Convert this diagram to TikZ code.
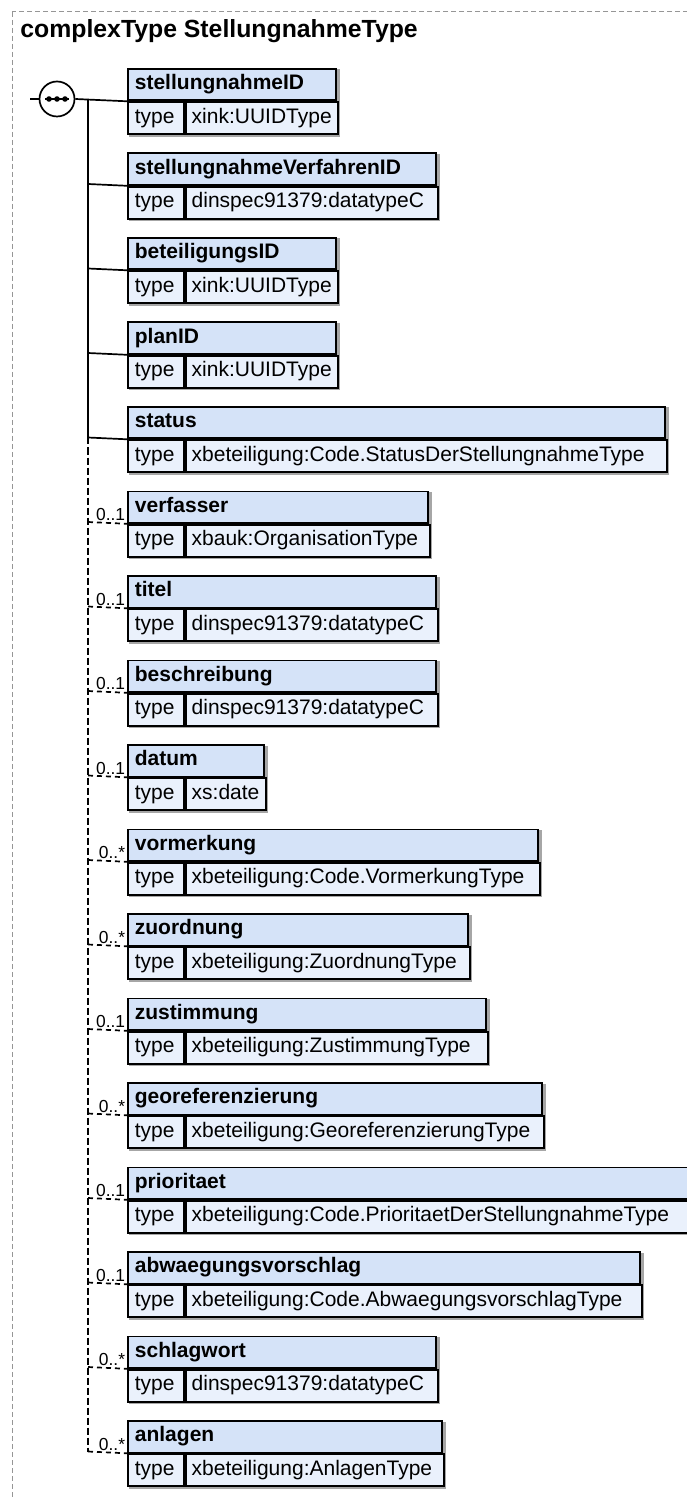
\documentclass[tikz,border=0pt]{standalone}
\usepackage{fontspec}
\setmainfont{Liberation Sans}
\usetikzlibrary{
  calc,
  backgrounds,
}
\definecolor{headblue}{RGB}{213,227,248}
\definecolor{rowblue}{RGB}{234,241,252}
\definecolor{framegray}{RGB}{150,150,150}
\tikzset{
  cell/.style = {
    rectangle,
    draw = black,
    line width = 0.9pt,
    anchor = north west,
    inner ysep = 0pt,
    text height = 0.75em,
    text depth = 0.25em,
    align = left,
    font = \fontsize{10.5}{12}\selectfont
  },
  head/.style = {
    cell,
    fill = headblue,
    inner xsep = 3.5pt,
    minimum height = 15.75pt,
    font = \fontsize{10.5}{12}\selectfont\bfseries
  },
  key/.style = {
    cell,
    fill = rowblue,
    inner xsep = 3.5pt,
    minimum height = 16pt,
    minimum width = 28pt,
    text width = 21pt
  },
  val/.style = {
    cell,
    fill = rowblue,
    inner xsep = 3pt,
    minimum height = 16pt
  },
  shade/.style = {
    fill = black!35
  },
  card/.style = {
    anchor = base east,
    inner sep = 0pt,
    font = \fontsize{8.7}{10}\selectfont
  },
  title/.style = {
    anchor = base west,
    inner sep = 0pt,
    font = \fontsize{12.4}{14}\selectfont\bfseries
  },
  compositor/.style = {
    circle,
    draw = black,
    fill = white,
    line width = 0.85pt,
    minimum size = 17.5pt,
    inner sep = 0pt
  },
  tree/.style = {
    line width = 0.85pt
  },
  optline/.style = {
    line width = 0.85pt,
    dash pattern = on 3.5pt off 1.5pt
  },
  optbranch/.style = {
    line width = 0.85pt,
    dash pattern = on 2.5pt off 2pt
  },
  frame/.style = {
    draw = framegray,
    line width = 0.5pt,
    dash pattern = on 2.5pt off 1.5pt
  },
}
% one element box: name, top, right edge, type
\newcommand{\element}[4]{
  \node[head, minimum width = {(#3-127)*0.5pt}, text width = {(#3-127)*0.5pt-7pt}]
    (#1) at (127,#2) {\mbox{#1}};
  \node[key] (#1-k) at (#1.south west) {type};
  \node[val, minimum width = {(#3-183)*0.5pt}, text width = {(#3-183)*0.5pt-6pt}]
    (#1-v) at (#1-k.north east) {\mbox{#4}};
  \coordinate (#1-j) at (88,#2+31.5);
  \begin{scope}[on background layer]
    \fill[shade] ($(#1.north west)+(1.5,1.5)$) rectangle ($(#1-v.south east)+(1.5,1.5)$);
  \end{scope}
}
\newcommand{\required}[1]{
  \draw[tree] (#1-j) -- (#1.south west);
}
\newcommand{\optional}[2]{
  \draw[optbranch] (#1-j) -- (#1.south west);
  \node[card] (#1-c) at ($(#1.south west)+(-1.5,-3)$) {#2};
}

\begin{document}
\begin{tikzpicture}[x = 0.5pt, y = -0.5pt]
  \useasboundingbox (0,0) rectangle (686,1497);
  \draw[frame] (12,12) rectangle (700,1510);
  \node[title] (ttl) at (20,38) {complexType StellungnahmeType};

  \element{stellungnahmeID}{68}{335}{xink:UUIDType}
  \element{stellungnahmeVerfahrenID}{152.5}{435}{dinspec91379:datatypeC}
  \element{beteiligungsID}{237}{335}{xink:UUIDType}
  \element{planID}{321.5}{335}{xink:UUIDType}
  \element{status}{406}{664}{xbeteiligung:Code.StatusDerStellungnahmeType}
  \element{verfasser}{490.5}{427}{xbauk:OrganisationType}
  \element{titel}{575}{435}{dinspec91379:datatypeC}
  \element{beschreibung}{659.5}{435}{dinspec91379:datatypeC}
  \element{datum}{744}{263}{xs:date}
  \element{vormerkung}{828.5}{537}{xbeteiligung:Code.VormerkungType}
  \element{zuordnung}{913}{467}{xbeteiligung:ZuordnungType}
  \element{zustimmung}{997.5}{485}{xbeteiligung:ZustimmungType}
  \element{georeferenzierung}{1082}{541}{xbeteiligung:GeoreferenzierungType}
  \element{prioritaet}{1166.5}{688}{xbeteiligung:Code.PrioritaetDerStellungnahmeType}
  \element{abwaegungsvorschlag}{1251}{639}{xbeteiligung:Code.AbwaegungsvorschlagType}
  \element{schlagwort}{1335.5}{435}{dinspec91379:datatypeC}
  \element{anlagen}{1420}{441}{xbeteiligung:AnlagenType}

  % sequence compositor
  \coordinate (in) at (30,99);
  \node[compositor] (seq) at (57,99) {};
  \draw[tree] ($(seq.center)+(-12,0)$) -- ($(seq.center)+(12,0)$);
  \fill ($(seq.center)+(-8,0)$) circle (1.4pt);
  \fill (seq.center) circle (1.4pt);
  \fill ($(seq.center)+(8,0)$) circle (1.4pt);
  \draw[tree] (in) -- (seq.west);
  \draw[tree] (seq.east) -- (stellungnahmeID.south west);

  % trunk
  \draw[tree] (stellungnahmeID-j) -- (status-j);
  \draw[optline] (status-j) -- (anlagen-j);

  \required{stellungnahmeVerfahrenID}
  \required{beteiligungsID}
  \required{planID}
  \required{status}
  \optional{verfasser}{0..1}
  \optional{titel}{0..1}
  \optional{beschreibung}{0..1}
  \optional{datum}{0..1}
  \optional{vormerkung}{0..*}
  \optional{zuordnung}{0..*}
  \optional{zustimmung}{0..1}
  \optional{georeferenzierung}{0..*}
  \optional{prioritaet}{0..1}
  \optional{abwaegungsvorschlag}{0..1}
  \optional{schlagwort}{0..*}
  \optional{anlagen}{0..*}
\end{tikzpicture}
\end{document}
